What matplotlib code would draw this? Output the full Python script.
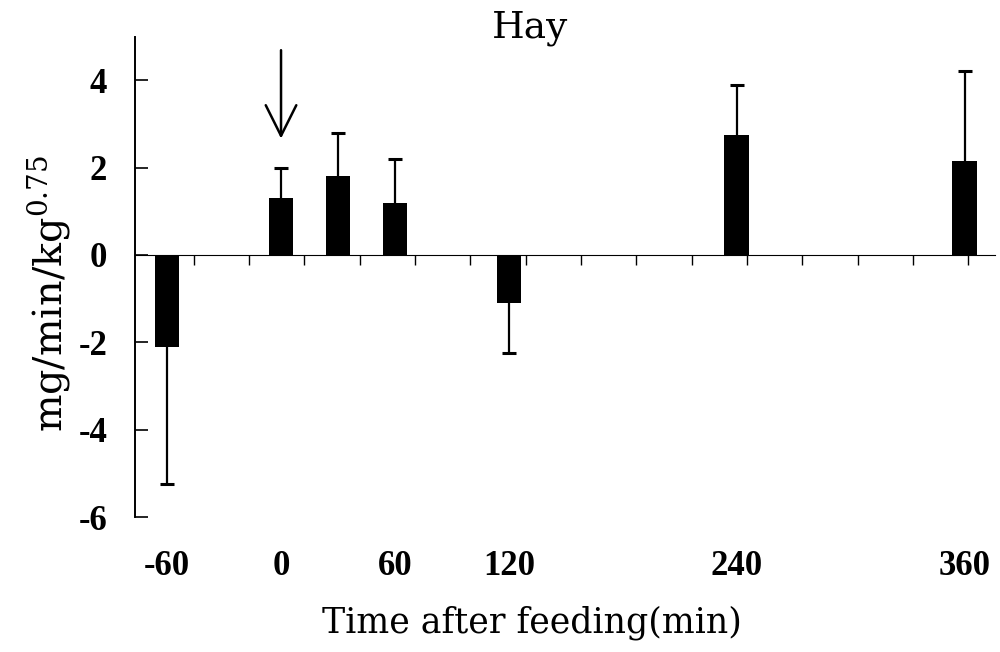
import numpy as np
import matplotlib
matplotlib.use('Agg')
import matplotlib.pyplot as plt

plt.rcParams['font.family'] = 'DejaVu Serif'
plt.rcParams['mathtext.fontset'] = 'dejavuserif'
plt.rcParams['axes.unicode_minus'] = False

# time after feeding (min) and mean response with one-sided error
times = [-60, 0, 30, 60, 120, 240, 360]
means = [-2.1, 1.3, 1.8, 1.2, -1.1, 2.75, 2.15]
err_ends = [-5.25, 2.0, 2.8, 2.2, -2.25, 3.9, 4.2]
tick_times = [-60, 0, 60, 120, 240, 360]
y_ticks = [4, 2, 0, -2, -4, -6]

t = np.array(times)
means = np.array(means)
err = np.abs(np.array(err_ends) - means)
pos = means > 0
neg = ~pos

fig = plt.figure(figsize=(10, 6.52), dpi=100)
ax = fig.add_axes([0.135, 0.207, 0.86, 0.737])

ax.bar(times, means, width=13, color='black', zorder=3)

# one-sided error bars: up for positive bars, down for negative ones
eb_pos = ax.errorbar(t[pos], means[pos], yerr=[np.zeros(pos.sum()), err[pos]],
                     fmt='none', ecolor='black', elinewidth=1.6, capsize=5,
                     capthick=2.2, zorder=2)
eb_neg = ax.errorbar(t[neg], means[neg], yerr=[err[neg], np.zeros(neg.sum())],
                     fmt='none', ecolor='black', elinewidth=1.6, capsize=5,
                     capthick=2.2, zorder=2)
eb_pos[1][0].set_visible(False)
eb_neg[1][1].set_visible(False)

ax.set_xlim(-76.9, 376)
ax.set_ylim(-6, 5)

for s in ['top', 'right', 'bottom']:
    ax.spines[s].set_visible(False)
ax.spines['left'].set_linewidth(1.4)

tick_font = dict(family='Liberation Serif', weight='bold', size=25)

ax.set_yticks(y_ticks)
ax.set_yticklabels([str(v) for v in y_ticks], fontdict=tick_font)
ax.tick_params(axis='y', direction='in', length=9, width=1.2, pad=20)

ax.set_xticks(tick_times)
ax.set_xticklabels([str(v) for v in tick_times], fontdict=tick_font)
ax.tick_params(axis='x', length=0, pad=24)

# zero line with small upward ticks
zero_pos = (0 - (-6)) / 11
sec = ax.secondary_xaxis(zero_pos)
sec.spines['bottom'].set_linewidth(1.8)
sec.set_xticks(np.linspace(-46, 362, 15))
sec.set_xticklabels([])
sec.tick_params(axis='x', direction='in', length=7, width=1)

# feeding arrow
ax.annotate('', xy=(0, 2.6), xytext=(0, 4.75),
            arrowprops=dict(arrowstyle='->,head_length=1.1,head_width=0.55',
                            lw=1.8, color='black', mutation_scale=20))

fig.text(0.53, 1 - 37 / 652, 'Hay', ha='center', va='baseline', fontsize=27)
fig.text(0.532, 1 - 632 / 652, 'Time after feeding(min)', ha='center',
         va='baseline', fontsize=25)
fig.text(0.048, 1 - 294 / 652, 'mg/min/kg$^{0.75}$', rotation=90,
         ha='center', va='center', fontsize=28.5)

fig.savefig('out.png', dpi=100)
